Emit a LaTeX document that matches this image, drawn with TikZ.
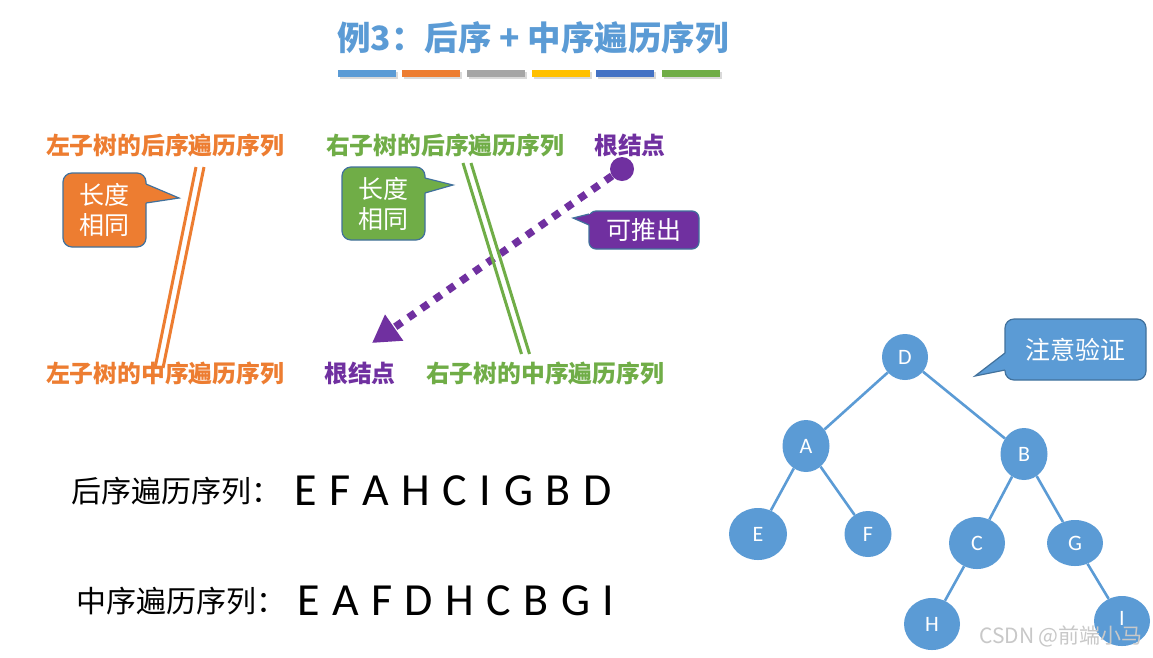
\documentclass[tikz,border=0pt]{standalone}
\usepackage{fontspec}
\usetikzlibrary{arrows.meta,shapes.geometric}
\newfontfamily\cjk{Noto Sans CJK SC}
\newfontfamily\latinf{Carlito}
\newfontfamily\seqfont[WordSpace=1.2]{Carlito}
\definecolor{tblue}{HTML}{5B9BD5}
\definecolor{torange}{HTML}{ED7D31}
\definecolor{tgray}{HTML}{A5A5A5}
\definecolor{tyellow}{HTML}{FFC000}
\definecolor{tdblue}{HTML}{4472C4}
\definecolor{tgreen}{HTML}{70AD47}
\definecolor{tpurple}{HTML}{7030A0}
\definecolor{tborder}{HTML}{41719C}
\definecolor{wmark}{HTML}{C8C8C8}
\begin{document}
\begin{tikzpicture}[x=1pt,y=-1pt,
  lbl/.style={inner sep=0, font=\cjk\bfseries\fontsize{23.8}{28}\selectfont},
  cobox/.style={draw=tborder, line width=1.2, rounded corners=9, inner sep=0,
    text=white, align=center, font=\cjk\fontsize{25}{30}\selectfont},
  wedgeline/.style={draw=tborder, line width=1.2, line join=miter},
  bar/.style={inner sep=0, minimum width=58, minimum height=7},
  tnode/.style={ellipse, fill=tblue, inner sep=0, text=white, font=\latinf\fontsize{22}{22}\selectfont},
  tedge/.style={draw=tblue, line width=2.6},
  dline/.style={line width=3},
  seqlbl/.style={inner sep=0, anchor=west, font=\cjk\fontsize{30}{34}\selectfont},
  seqtxt/.style={inner sep=0, anchor=west, font=\seqfont\fontsize{46}{50}\selectfont}
]
\useasboundingbox (0,0) rectangle (1153,657);
\fill[white] (0,0) rectangle (1153,657);

% title
\node[inner sep=0, text=tblue, font=\cjk\bfseries\fontsize{33.5}{38}\selectfont] (title) at (533,38) {例3：后序 + 中序遍历序列};
% bars
\foreach \x/\c [count=\i] in {367/tblue,431/torange,496/tgray,561/tyellow,625/tdblue,691/tgreen}{
  \fill[black,opacity=0.15] (\x-29+1.5,70+1.5) rectangle (\x+29+1.5,77+1.5);
  \node[bar, fill=\c] (bar\i) at (\x,73.5) {};
}

% labels
\node[lbl, text=torange] (lpost) at (165,145) {左子树的后序遍历序列};
\node[lbl, text=tgreen] (rpost) at (445,145) {右子树的后序遍历序列};
\node[lbl, text=tpurple] (rootpost) at (630,145) {根结点};
\node[lbl, text=torange] (lin) at (165,373) {左子树的中序遍历序列};
\node[lbl, text=tpurple] (rootin) at (360,373) {根结点};
\node[lbl, text=tgreen] (rin) at (545,373) {右子树的中序遍历序列};

% orange double line
\draw[dline, torange] (196,167) -- (155,368);
\draw[dline, torange] (204,167) -- (163,368);

% purple dotted arrow
\node[circle, fill=tpurple, minimum size=24, inner sep=0] (rdot) at (622,169) {};
\coordinate (atip) at (372,343);
\draw[tpurple, line width=7.5, dash pattern=on 8 off 8, -{Triangle[length=27pt,width=30pt]}] (rdot) -- (atip);

% green double line
\draw[dline, tgreen] (463,163) -- (521.5,354);
\draw[dline, tgreen] (471,163) -- (529.5,354);

% orange callout
\node[cobox, fill=torange, minimum width=83, minimum height=74] (ocall) at (104.5,210) {长度\\相同};
\fill[torange] (143,184) -- (146,184) -- (179,198) -- (146,203) -- (143,203) -- cycle;
\draw[wedgeline] (146,184) -- (179,198) -- (146,203);

% green callout
\node[cobox, fill=tgreen, minimum width=83, minimum height=73] (gcall) at (383.5,203.5) {长度\\相同};
\fill[tgreen] (422,178) -- (425,178) -- (453,185) -- (425,193) -- (422,193) -- cycle;
\draw[wedgeline] (425,178) -- (453,185) -- (425,193);

% purple callout
\node[cobox, rounded corners=7, fill=tpurple, minimum width=110, minimum height=38] (pcall) at (644,230) {可推出};
\fill[tpurple] (592,214) -- (589,214) -- (573,218) -- (589,225) -- (592,225) -- cycle;
\draw[wedgeline] (589,214) -- (573,218) -- (589,225);

% blue callout
\node[cobox, fill=tblue, minimum width=141, minimum height=61] (bcall) at (1075.5,349.5) {注意验证};
\fill[tblue] (1008,353) -- (1005,353) -- (975,376) -- (1005,370) -- (1008,370) -- cycle;
\draw[wedgeline] (1005,353) -- (975,376) -- (1005,370);

% sequences
\node[seqlbl] (postlbl) at (71,491) {后序遍历序列：};
\node[seqtxt] (postseq) at (294,491) {E F A H C I G B D};
\node[seqlbl] (inlbl) at (76,601) {中序遍历序列：};
\node[seqtxt] (inseq) at (297,601) {E A F D H C B G I};

% tree
\node[tnode, minimum width=46, minimum height=46] (D) at (905,357) {D};
\node[tnode, minimum width=47, minimum height=52] (A) at (806,446) {A};
\node[tnode, minimum width=47, minimum height=52] (B) at (1024,454) {B};
\node[tnode, minimum width=58, minimum height=52] (E) at (758,534) {E};
\node[tnode, minimum width=47, minimum height=46] (F) at (868,534) {F};
\node[tnode, minimum width=56, minimum height=52] (C) at (977,543) {C};
\node[tnode, minimum width=56, minimum height=46] (G) at (1075,543) {G};
\node[tnode, minimum width=56, minimum height=52] (H) at (932,624) {H};
\node[tnode, minimum width=56, minimum height=50, text depth=6pt] (I) at (1122,621) {I};
\draw[tedge] (D) -- (A);
\draw[tedge] (D) -- (B);
\draw[tedge] (A) -- (E);
\draw[tedge] (A) -- (F);
\draw[tedge] (B) -- (C);
\draw[tedge] (B) -- (G);
\draw[tedge] (C) -- (H);
\draw[tedge] (G) -- (I);

% watermark
\node[inner sep=0, text=wmark, font=\cjk\fontsize{21}{24}\selectfont] (wm) at (1061,636) {CSDN @前端小马};
\end{tikzpicture}
\end{document}
